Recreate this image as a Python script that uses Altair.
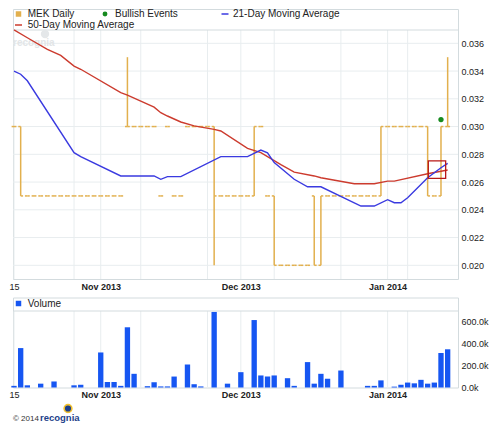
import altair as alt
import pandas as pd

FONT = "Liberation Sans"
TXT = "#222222"
GOLD = "#E2B04E"
BLUE_MA = "#3A3AE0"
RED_MA = "#CC3B2E"
VBLUE = "#1656F2"
GRID = "#E8EDEF"
FRAME = "#D3DBDE"

W = 445
H_TOP = 270
H_VOL = 90

# weekday index: 0 = 15 Oct 2013 ... 65 = 14 Jan 2014
day = list(range(66))

price_open = [0.030, 0.030, 0.025, 0.025, 0.025, 0.025, 0.025, 0.025, 0.025, 0.025,
              0.025, 0.025, 0.025, 0.025, 0.025, 0.025, 0.025, 0.030, 0.030, 0.030,
              0.030, 0.030, 0.025, 0.030, 0.025, 0.025, 0.030, 0.030, 0.030, 0.030,
              0.030, 0.025, 0.025, 0.025, 0.025, 0.025, 0.025, 0.030, 0.025, 0.025,
              0.020, 0.020, 0.020, 0.020, 0.020, 0.025, 0.020, 0.025, 0.025, 0.025,
              0.025, 0.025, 0.025, 0.025, 0.025, 0.025, 0.030, 0.030, 0.030, 0.030,
              0.030, 0.030, 0.030, 0.025, 0.025, 0.030]
price_close = [0.030, 0.025, 0.025, 0.025, 0.025, 0.025, 0.025, 0.025, 0.025, 0.025,
               0.025, 0.025, 0.025, 0.025, 0.025, 0.025, 0.025, 0.030, 0.030, 0.030,
               0.030, 0.030, 0.025, 0.030, 0.025, 0.025, 0.030, 0.030, 0.030, 0.030,
               0.025, 0.025, 0.025, 0.025, 0.025, 0.025, 0.030, 0.030, 0.025, 0.020,
               0.020, 0.020, 0.020, 0.020, 0.020, 0.020, 0.025, 0.025, 0.025, 0.025,
               0.025, 0.025, 0.025, 0.025, 0.025, 0.030, 0.030, 0.030, 0.030, 0.030,
               0.030, 0.030, 0.025, 0.025, 0.030, 0.030]
price_high = [0.030, 0.030, 0.025, 0.025, 0.025, 0.025, 0.025, 0.025, 0.025, 0.025,
              0.025, 0.025, 0.025, 0.025, 0.025, 0.025, 0.025, 0.035, 0.030, 0.030,
              0.030, 0.030, 0.025, 0.030, 0.025, 0.025, 0.030, 0.030, 0.030, 0.030,
              0.030, 0.025, 0.025, 0.025, 0.025, 0.025, 0.030, 0.030, 0.025, 0.025,
              0.020, 0.020, 0.020, 0.020, 0.020, 0.025, 0.025, 0.025, 0.025, 0.025,
              0.025, 0.025, 0.025, 0.025, 0.025, 0.030, 0.030, 0.030, 0.030, 0.030,
              0.030, 0.030, 0.030, 0.025, 0.030, 0.035]
price_low = [0.030, 0.025, 0.025, 0.025, 0.025, 0.025, 0.025, 0.025, 0.025, 0.025,
             0.025, 0.025, 0.025, 0.025, 0.025, 0.025, 0.025, 0.030, 0.030, 0.030,
             0.030, 0.030, 0.025, 0.030, 0.025, 0.025, 0.030, 0.030, 0.030, 0.030,
             0.020, 0.025, 0.025, 0.025, 0.025, 0.025, 0.025, 0.030, 0.025, 0.020,
             0.020, 0.020, 0.020, 0.020, 0.020, 0.020, 0.020, 0.025, 0.025, 0.025,
             0.025, 0.025, 0.025, 0.025, 0.025, 0.025, 0.030, 0.030, 0.030, 0.030,
             0.030, 0.030, 0.025, 0.025, 0.025, 0.030]
volume_k = [15, 360, 20, 0, 35, 0, 55, 0, 0, 20,
            25, 0, 0, 320, 50, 50, 15, 550, 125, 0,
            12, 48, 10, 10, 100, 0, 210, 30, 10, 0,
            690, 0, 35, 0, 140, 0, 616, 110, 100, 110,
            0, 85, 15, 0, 232, 35, 125, 80, 0, 155,
            0, 0, 0, 15, 15, 65, 0, 8, 25, 45,
            38, 70, 35, 45, 315, 349]

ma21_idx = [0, 1, 2, 9, 10, 16, 21, 22, 23, 25, 31, 35, 37, 38, 39, 42, 44, 46, 52, 54, 56, 57, 58, 59, 62, 64, 65]
ma21_val = [0.0340, 0.03377, 0.0333, 0.02812, 0.02783, 0.02644, 0.02644, 0.0262, 0.02639, 0.02639,
            0.02783, 0.02783, 0.02831, 0.0281, 0.0274, 0.0262, 0.02566, 0.02566, 0.02427, 0.02427,
            0.02473, 0.02451, 0.02451, 0.02487, 0.02631, 0.02703, 0.02735]
ma50_idx = [0, 2, 5, 7, 9, 10, 16, 17, 21, 22, 23, 25, 27, 30, 31, 35, 37, 40, 42, 45, 46, 51, 54, 56, 57, 62, 65]
ma50_val = [0.03696, 0.0364, 0.03557, 0.03513, 0.03436, 0.03413, 0.03244, 0.03227, 0.0314, 0.0310,
            0.03076, 0.03033, 0.03005, 0.0298, 0.02968, 0.02843, 0.02812, 0.02725, 0.02672, 0.02644,
            0.02631, 0.02588, 0.02588, 0.02607, 0.02607, 0.0266, 0.02687]

bull_idx = [64]
bull_val = [0.0305]

box_x = [62.1]
box_x2 = [64.7]
box_lo = [0.02627]
box_hi = [0.02752]

x_label_idx = [0, 13, 34, 56]
x_label_text = ["15", "Nov 2013", "Dec 2013", "Jan 2014"]
grid_idx = [0, 9, 13, 19, 29, 34, 39, 49, 56, 59]
price_ticks = [0.020, 0.022, 0.024, 0.026, 0.028, 0.030, 0.032, 0.034, 0.036]
vol_ticks = [0, 200, 400, 600]

# ---------------------------------------------------------------
ohlc = pd.DataFrame({"i": day, "o": price_open, "h": price_high, "l": price_low, "c": price_close})
vol = pd.DataFrame({"i": day, "v": volume_k})
ma21 = pd.DataFrame({"i": ma21_idx, "v": ma21_val})
ma50 = pd.DataFrame({"i": ma50_idx, "v": ma50_val})
bull = pd.DataFrame({"i": bull_idx, "v": bull_val})
box = pd.DataFrame({"x": box_x, "x2": box_x2, "lo": box_lo, "hi": box_hi})
grid_df = pd.DataFrame({"g": grid_idx})
ptick_df = pd.DataFrame({"p": price_ticks})
ONE = pd.DataFrame({"k": [0]})

expr = "''"
for v, t in zip(reversed(x_label_idx), reversed(x_label_text)):
    expr = f"datum.value == {v} ? '{t}' : ({expr})"

xscale = alt.Scale(domain=[-0.15, 66.55], nice=False, zero=False)
xaxis = alt.Axis(values=x_label_idx, labelExpr=expr, title=None, grid=False, ticks=False,
                 domain=False, labelFont=FONT, labelFontSize=9, labelColor=TXT, labelPadding=3,
                 labelFontWeight={"condition": {"test": "datum.value == 0", "value": "normal"}, "value": "bold"})


def X(f):
    return alt.X(f, type="quantitative", scale=xscale, axis=xaxis)


yscale = alt.Scale(domain=[0.019013, 0.038472], nice=False, zero=False)
yaxis = alt.Axis(orient="right", values=price_ticks, format=".3f", title=None, grid=False,
                 ticks=False, domain=False, labelFont=FONT, labelFontSize=9, labelColor=TXT,
                 labelPadding=3)


def Y(f):
    return alt.Y(f, type="quantitative", scale=yscale, axis=yaxis)


def txt(s, px, py, size=10, color=TXT, weight="normal", opacity=1.0):
    return alt.Chart(ONE).mark_text(text=s, align="left", baseline="middle", font=FONT,
                                    fontSize=size, color=color, fontWeight=weight,
                                    opacity=opacity).encode(x=alt.value(px), y=alt.value(py))


hgrid = alt.Chart(ptick_df).mark_rule(color=GRID, strokeWidth=1).encode(
    y=Y("p"), x=alt.value(0), x2=alt.value(W))
vgrid = alt.Chart(grid_df).mark_rule(color=GRID, strokeWidth=1).encode(
    x=X("g"), y=alt.value(21), y2=alt.value(H_TOP))
sep = alt.Chart(ONE).mark_rule(color=FRAME, strokeWidth=1).encode(
    x=alt.value(0), x2=alt.value(W), y=alt.value(21))

wm_icon = alt.Chart(ONE).mark_circle(size=70, color="#E4E7E9", opacity=1).encode(
    x=alt.value(32), y=alt.value(25))
wm_text = txt("recognia", 0, 34, size=10, color="#E2E5E7", weight="bold")

obase = alt.Chart(ohlc).transform_calculate(xl="datum.i - 0.36", xr="datum.i + 0.36")
open_tick = obase.mark_rule(color=GOLD, strokeWidth=1.5).encode(x=X("xl"), x2="i", y=Y("o"))
close_tick = obase.mark_rule(color=GOLD, strokeWidth=1.5).encode(x=X("i"), x2="xr", y=Y("c"))
hl = obase.transform_filter("datum.h > datum.l").mark_rule(color=GOLD, strokeWidth=1.5).encode(
    x=X("i"), y=Y("l"), y2="h")

l50 = alt.Chart(ma50).mark_line(color=RED_MA, strokeWidth=1.4).encode(x=X("i"), y=Y("v"))
l21 = alt.Chart(ma21).mark_line(color=BLUE_MA, strokeWidth=1.4).encode(x=X("i"), y=Y("v"))
bull_pt = alt.Chart(bull).mark_circle(color="#168A1E", size=28, opacity=1).encode(x=X("i"), y=Y("v"))
box_mark = alt.Chart(box).mark_rect(fill="transparent", stroke="#B81818", strokeWidth=1.3).encode(
    x=X("x"), x2="x2", y=Y("lo"), y2="hi")

leg_gold = alt.Chart(ONE).mark_square(size=30, color=GOLD, opacity=1).encode(x=alt.value(5.5), y=alt.value(5))
leg_green = alt.Chart(ONE).mark_circle(size=24, color="#168A1E", opacity=1).encode(x=alt.value(92), y=alt.value(5))
leg_blue = alt.Chart(ONE).mark_rule(color=BLUE_MA, strokeWidth=1.5).encode(
    x=alt.value(208.5), x2=alt.value(215.5), y=alt.value(5))
leg_red = alt.Chart(ONE).mark_rule(color=RED_MA, strokeWidth=1.5).encode(
    x=alt.value(2), x2=alt.value(9), y=alt.value(16))

top = alt.layer(
    hgrid, vgrid, sep, wm_icon, wm_text,
    open_tick, close_tick, hl, l50, l21, bull_pt, box_mark,
    leg_gold, txt("MEK Daily", 14.7, 5),
    leg_green, txt("Bullish Events", 102, 5),
    leg_blue, txt("21-Day Moving Average", 220, 5),
    leg_red, txt("50-Day Moving Average", 14.7, 16),
).properties(width=W, height=H_TOP)

# ---------------- volume panel ----------------
vyscale = alt.Scale(domain=[0, 822], nice=False, zero=True)
vyaxis = alt.Axis(orient="right", values=vol_ticks, labelExpr="format(datum.value, '.1f') + 'k'",
                  title=None, grid=False, ticks=False, domain=False, labelFont=FONT,
                  labelFontSize=9, labelColor=TXT, labelPadding=3)

vgrid2 = alt.Chart(grid_df).mark_rule(color=GRID, strokeWidth=1).encode(
    x=X("g"), y=alt.value(13.5), y2=alt.value(H_VOL))
sep2 = alt.Chart(ONE).mark_rule(color=FRAME, strokeWidth=1).encode(
    x=alt.value(0), x2=alt.value(W), y=alt.value(13.5))
bars = alt.Chart(vol).transform_filter("datum.v > 0").transform_calculate(
    xl="datum.i - 0.4", xr="datum.i + 0.4").mark_rect(color=VBLUE).encode(
    x=X("xl"), x2="xr",
    y=alt.Y("v:Q", scale=vyscale, axis=vyaxis), y2=alt.datum(0))
leg_vol = alt.Chart(ONE).mark_square(size=30, color=VBLUE, opacity=1).encode(x=alt.value(5.5), y=alt.value(6))

logo = alt.Chart(ONE).mark_circle(size=60, color="#1D3F8A", stroke="#F2C12E", strokeWidth=1.6,
                                  opacity=1).encode(x=alt.value(55), y=alt.value(111))

volume = alt.layer(
    vgrid2, sep2, bars, leg_vol, txt("Volume", 14.7, 6),
    logo,
    txt("© 2014", 0, 121, size=8, color="#333333"),
    txt("recognia", 27, 120.5, size=9.5, color="#1D3F8A", weight="bold"),
).properties(width=W, height=H_VOL)

chart = alt.vconcat(top, volume, spacing=18.5, bounds="flush").properties(
    padding=0
).configure_view(stroke=FRAME, strokeWidth=1)

chart.save("out.html", embed_options={"renderer": "svg", "actions": False})
